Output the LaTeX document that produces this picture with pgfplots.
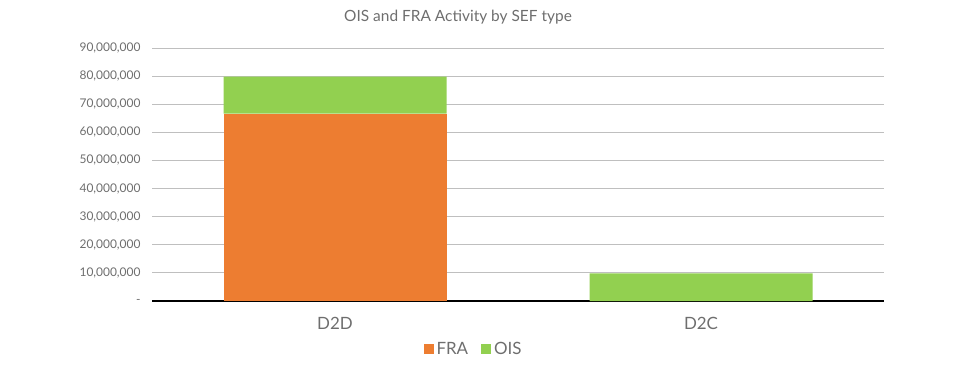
\documentclass[border=0pt]{standalone}
\usepackage{pgfplots}
\pgfplotsset{compat=1.18}
\usepackage{fontspec}
\setmainfont{Lato}
\definecolor{fra}{RGB}{237,125,49}
\definecolor{ois}{RGB}{146,208,80}
\definecolor{txt}{RGB}{110,110,110}
\definecolor{grid}{RGB}{217,217,217}
\begin{document}
\begin{tikzpicture}[x=1bp,y=1bp]
\useasboundingbox (0,0) rectangle (953,370);
\node[text=txt,font=\fontsize{15.5}{18}\selectfont] at (458,353) {OIS and FRA Activity by SEF type};
\begin{axis}[
  at={(152bp,69bp)}, anchor=south west,
  scale only axis, width=732bp, height=253bp,
  ybar stacked, bar width=223bp,
  xmin=-0.5, xmax=1.5, ymin=0, ymax=90000000,
  xtick={0,1}, xticklabels={D2D,D2C},
  ytick={0,10000000,20000000,30000000,40000000,50000000,60000000,70000000,80000000,90000000},
  yticklabels={{-},{10,000,000},{20,000,000},{30,000,000},{40,000,000},{50,000,000},{60,000,000},{70,000,000},{80,000,000},{90,000,000}},
  scaled y ticks=false,
  xmajorgrids=false, ymajorgrids=true, grid style={grid, line width=0.8pt},
  axis x line*=bottom, axis y line*=left,
  y axis line style={draw=none},
  x axis line style={black, line width=1.8pt, -},
  major tick length=0pt,
  xticklabel style={text=txt, font=\fontsize{17}{19}\selectfont, yshift=-13bp},
  yticklabel style={text=txt, font=\fontsize{12}{14}\selectfont, xshift=-8bp},
  legend style={at={(0.44,-0.19)}, anchor=center, draw=none, legend columns=2,
    font=\fontsize{17}{19}\selectfont, text=txt, fill=none,
    nodes={inner xsep=3bp},
    /tikz/every even column/.append style={column sep=10bp}},
  legend image code/.code={\fill[#1] (0bp,-5bp) rectangle (10bp,5bp);},
]
\addplot[fill=fra, draw=none] coordinates {(0,66700000) (1,0)};
\addplot[fill=ois, draw=none] coordinates {(0,13100000) (1,9800000)};
\legend{FRA,OIS}
\end{axis}
\end{tikzpicture}
\end{document}
